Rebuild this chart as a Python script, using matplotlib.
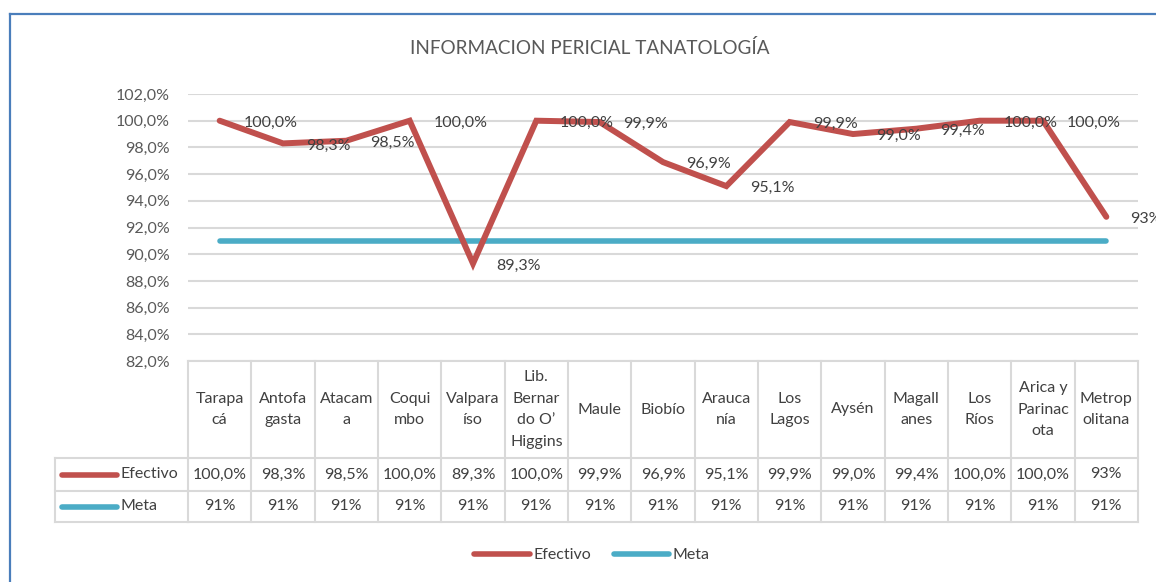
import matplotlib
matplotlib.use("Agg")
import matplotlib.pyplot as plt
from matplotlib.lines import Line2D
from matplotlib.transforms import blended_transform_factory

plt.rcParams['font.family'] = ['Lato', 'DejaVu Sans']

# ---- data ----
categories = ["Tarapa\ncá", "Antofa\ngasta", "Atacam\na", "Coqui\nmbo", "Valpara\níso",
              "Lib.\nBernar\ndo O’\nHiggins", "Maule", "Biobío", "Arauca\nnía", "Los\nLagos",
              "Aysén", "Magall\nanes", "Los\nRíos", "Arica y\nParinac\nota", "Metrop\nolitana"]
efectivo = [100.0, 98.3, 98.5, 100.0, 89.3, 100.0, 99.9, 96.9, 95.1, 99.9, 99.0, 99.4, 100.0, 100.0, 92.8]
efectivo_labels = ["100,0%", "98,3%", "98,5%", "100,0%", "89,3%", "100,0%", "99,9%", "96,9%",
                   "95,1%", "99,9%", "99,0%", "99,4%", "100,0%", "100,0%", "93%"]
meta = [91] * 15
meta_labels = ["91%"] * 15
yticks = [82, 84, 86, 88, 90, 92, 94, 96, 98, 100, 102]
title = "INFORMACION PERICIAL TANATOLOGÍA"

RED = "#C0504D"
BLUE = "#4BACC6"
GRID = "#D9D9D9"
TXT = "#404040"
TICK = "#595959"
FS = 11.5

W, H = 1156, 582
fig = plt.figure(figsize=(W / 100, H / 100), dpi=100)

def fy(py):
    return 1 - py / H

def fx(px):
    return px / W

ax = fig.add_axes([fx(188), fy(361), fx(1138) - fx(188), fy(94) - fy(361)])
n = len(categories)
x = list(range(n))
ax.set_xlim(-0.5, n - 0.5)
ax.set_ylim(82, 102)
for s in ax.spines.values():
    s.set_visible(False)
ax.set_xticks([])
ax.set_yticks(yticks)
ax.set_yticklabels([f"{v:.1f}%".replace('.', ',') for v in yticks], fontsize=FS, color=TICK)
ax.tick_params(axis='y', length=0, pad=13)
for v in yticks:
    ax.axhline(v, color=GRID, lw=1.5, zorder=1)

ax.plot(x, meta, color=BLUE, lw=4.0, solid_capstyle='round', zorder=3)
ax.plot(x, efectivo, color=RED, lw=4.3, solid_capstyle='round', solid_joinstyle='miter', zorder=4)
for xi, yi, lab in zip(x, efectivo, efectivo_labels):
    ax.annotate(lab, (xi, yi), xytext=(17, -1.5), textcoords='offset points', ha='left', va='center',
                fontsize=FS, color=TXT, annotation_clip=False, zorder=5)

fig.text(fx(590), fy(48), title, ha='center', va='center', fontsize=13.6, color=TICK)

# ---- data table ----
tr = blended_transform_factory(ax.transData, fig.transFigure)
tf = fig.transFigure
y_top, y_r1, y_r2, y_bot = 361, 458, 491, 522
lkw = dict(color=GRID, lw=1.5, clip_on=False)
fig.add_artist(Line2D([-0.5, n - 0.5], [fy(y_top)] * 2, transform=tr, **lkw))
for yy in (y_r1, y_r2, y_bot):
    fig.add_artist(Line2D([fx(55), fx(188)], [fy(yy)] * 2, transform=tf, **lkw))
    fig.add_artist(Line2D([-0.5, n - 0.5], [fy(yy)] * 2, transform=tr, **lkw))
for b in range(n + 1):
    fig.add_artist(Line2D([b - 0.5, b - 0.5], [fy(y_top), fy(y_bot)], transform=tr, **lkw))
fig.add_artist(Line2D([fx(55), fx(55)], [fy(y_r1), fy(y_bot)], transform=tf, **lkw))

for xi, cat, e, m in zip(x, categories, efectivo_labels, meta_labels):
    fig.text(xi, fy((y_top + y_r1) / 2), cat, transform=tr, ha='center', va='center',
             fontsize=FS, color=TXT, linespacing=1.7)
    fig.text(xi, fy((y_r1 + y_r2) / 2), e, transform=tr, ha='center', va='center', fontsize=FS, color=TXT)
    fig.text(xi, fy((y_r2 + y_bot) / 2), m, transform=tr, ha='center', va='center', fontsize=FS, color=TXT)

for (yy0, yy1), col, name in (((y_r1, y_r2), RED, "Efectivo"), ((y_r2, y_bot), BLUE, "Meta")):
    yc = fy((yy0 + yy1) / 2)
    fig.add_artist(Line2D([fx(62), fx(117)], [yc, yc], transform=tf, color=col, lw=4.0,
                          solid_capstyle='round'))
    fig.text(fx(121), yc, name, transform=tf, ha='left', va='center', fontsize=FS, color=TXT)

# ---- legend ----
handles = [Line2D([], [], color=RED, lw=4.0, solid_capstyle='round'),
           Line2D([], [], color=BLUE, lw=4.0, solid_capstyle='round')]
fig.legend(handles, ["Efectivo", "Meta"], loc='center', bbox_to_anchor=(fx(592), fy(555)),
           ncol=2, frameon=False, fontsize=FS, handlelength=3.5, handletextpad=0.2,
           columnspacing=1.4, labelcolor=TXT)

# ---- chart border ----
BORDER = "#4A7EBB"
fig.add_artist(Line2D([fx(10), fx(10)], [fy(14), 0], transform=tf, color=BORDER, lw=1.6))
fig.add_artist(Line2D([fx(10), 1], [fy(14), fy(14)], transform=tf, color=BORDER, lw=1.6))

fig.savefig("out.png", dpi=100, facecolor='white')
